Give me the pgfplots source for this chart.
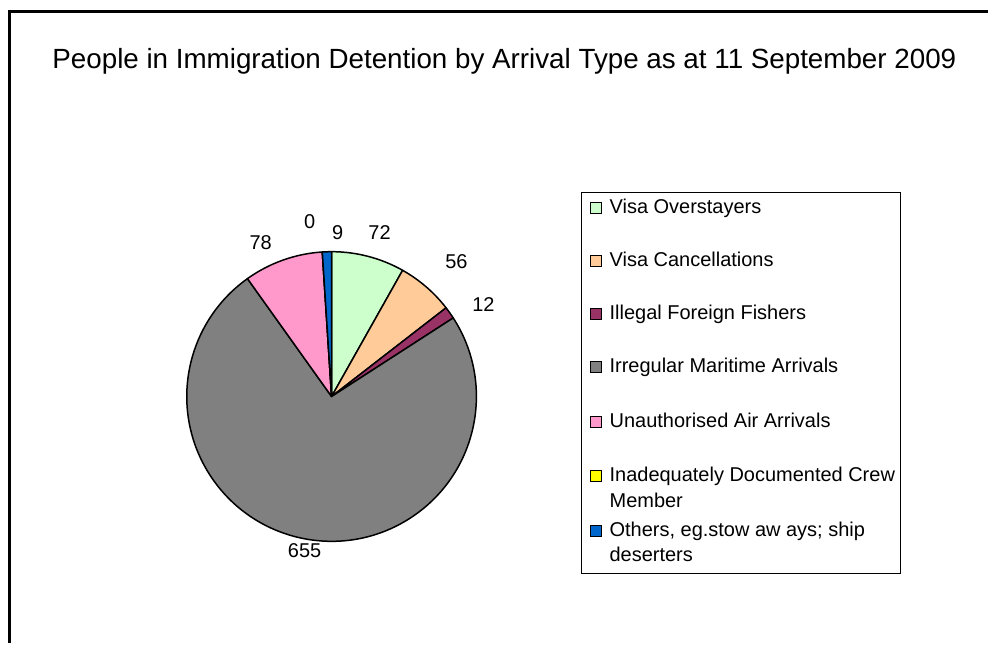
\documentclass[border=0pt]{standalone}
\usepackage{pgfplots}
\pgfplotsset{compat=1.18}
\usepackage{pgfplotstable}
\usepackage{fontspec}
\setmainfont{Liberation Sans}

\definecolor{cOver}{HTML}{CCFFCC}
\definecolor{cCanc}{HTML}{FFCC99}
\definecolor{cFish}{HTML}{993366}
\definecolor{cMari}{HTML}{808080}
\definecolor{cAir}{HTML}{FF99CC}
\definecolor{cCrew}{HTML}{FFFF00}
\definecolor{cOther}{HTML}{0066CC}

% people in detention, clockwise from 12 o'clock
\pgfplotstableread{
value col
72  cOver
56  cCanc
12  cFish
655 cMari
78  cAir
0   cCrew
9   cOther
}\pietable

% legend row: baseline y (px), colour, text
\newcommand\legrow[3]{%
  \filldraw[fill=#2, draw=black, line width=0.6pt] (axis cs:591.5,#1-11) rectangle (axis cs:602.5,#1);
  \node[anchor=base west, inner sep=0pt, font=\fontsize{10}{12}\selectfont] at (axis cs:610,#1) {#3};
}

\begin{document}
\begin{tikzpicture}
\begin{axis}[
    scale only axis,
    width=494.5pt, height=322pt,
    xmin=0, xmax=989, ymin=0, ymax=644,
    y dir=reverse,
    hide axis, clip=false,
]
\path (axis cs:0,0) rectangle (axis cs:989,644);
% chart area frame (right and bottom edges fall outside)
\draw[line width=1.25pt] (axis cs:9.5,644) -- (axis cs:9.5,11.5) -- (axis cs:989,11.5);

\node[anchor=base, font=\fontsize{13.9}{16}\selectfont] at (axis cs:505,69)
  {People in Immigration Detention by Arrival Type as at 11 September 2009};

% pie slices
\pgfplotstablegetrowsof{\pietable}
\pgfmathtruncatemacro\lastrow{\pgfplotsretval-1}
\def\total{0}
\pgfplotsforeachungrouped \i in {0,...,\lastrow}{%
  \pgfplotstablegetelem{\i}{value}\of\pietable
  \pgfmathsetmacro\total{\total+\pgfplotsretval}%
}
\def\cum{0}
\pgfplotsforeachungrouped \i in {0,...,\lastrow}{%
  \pgfplotstablegetelem{\i}{value}\of\pietable \let\val\pgfplotsretval
  \pgfplotstablegetelem{\i}{col}\of\pietable \let\slicecol\pgfplotsretval
  \pgfmathsetmacro\angA{90-360*(\cum/\total)}%
  \pgfmathsetmacro\angB{90-360*((\cum+\val)/\total)}%
  \edef\temp{\noexpand\filldraw[fill=\slicecol, draw=black, line width=0.75pt, line join=round]
    (axis cs:332,397) -- ++(\angA:72.5pt) arc[start angle=\angA, end angle=\angB, radius=72.5pt] -- cycle;}%
  \temp
  \pgfmathsetmacro\cum{\cum+\val}%
}

% data labels
\node[font=\fontsize{10}{12}\selectfont] at (axis cs:380,233) {72};
\node[font=\fontsize{10}{12}\selectfont] at (axis cs:457,262) {56};
\node[font=\fontsize{10}{12}\selectfont] at (axis cs:484,305) {12};
\node[font=\fontsize{10}{12}\selectfont] at (axis cs:305,551) {655};
\node[font=\fontsize{10}{12}\selectfont] at (axis cs:261,243) {78};
\node[font=\fontsize{10}{12}\selectfont] at (axis cs:310,222) {0};
\node[font=\fontsize{10}{12}\selectfont] at (axis cs:338,233) {9};

% legend
\draw[line width=0.5pt] (axis cs:582,193) rectangle (axis cs:902,574);
\legrow{214}{cOver}{Visa Overstayers}
\legrow{267}{cCanc}{Visa Cancellations}
\legrow{320}{cFish}{Illegal Foreign Fishers}
\legrow{373}{cMari}{Irregular Maritime Arrivals}
\legrow{428}{cAir}{Unauthorised Air Arrivals}
\legrow{482}{cCrew}{Inadequately Documented Crew}
\legrow{537}{cOther}{Others, eg.stow aw ays; ship}
\node[anchor=base west, inner sep=0pt, font=\fontsize{10}{12}\selectfont] at (axis cs:610,508) {Member};
\node[anchor=base west, inner sep=0pt, font=\fontsize{10}{12}\selectfont] at (axis cs:610,562) {deserters};
\end{axis}
\end{tikzpicture}
\end{document}
